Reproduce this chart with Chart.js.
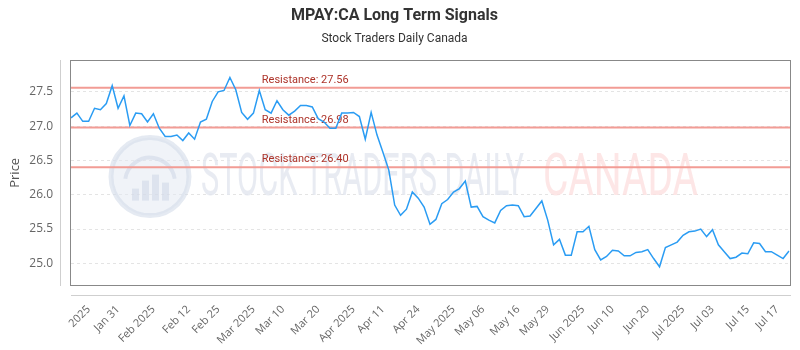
<!DOCTYPE html>
<html>
<head>
<meta charset="utf-8">
<script src="https://cdn.jsdelivr.net/npm/chart.js@4/dist/chart.umd.min.js"></script>
<style>
html,body{margin:0;padding:0;background:#fff;}
#wrap{width:800px;height:350px;}
</style>
</head>
<body>
<div id="wrap"><canvas id="c" width="800" height="350"></canvas></div>
<script>
// ---- data ----
const prices = [
  27.12, 27.19, 27.07, 27.07, 27.26, 27.24, 27.33, 27.59, 27.26, 27.44,
  27.01, 27.19, 27.18, 27.06, 27.18, 26.97, 26.85, 26.85, 26.87, 26.79,
  26.90, 26.81, 27.06, 27.10, 27.36, 27.50, 27.52, 27.71, 27.53, 27.20,
  27.10, 27.19, 27.52, 27.24, 27.19, 27.37, 27.24, 27.16, 27.22, 27.30,
  27.30, 27.28, 27.11, 27.06, 26.97, 26.97, 27.19, 27.19, 27.20, 27.14,
  26.81, 27.20, 26.87, 26.62, 26.36, 25.85, 25.70, 25.79, 26.04, 25.95,
  25.82, 25.57, 25.64, 25.87, 25.93, 26.04, 26.09, 26.20, 25.82, 25.83,
  25.68, 25.63, 25.59, 25.77, 25.84, 25.85, 25.84, 25.68, 25.69, 25.80,
  25.91, 25.63, 25.27, 25.35, 25.12, 25.12, 25.46, 25.46, 25.54, 25.20,
  25.05, 25.10, 25.19, 25.18, 25.11, 25.11, 25.16, 25.17, 25.20, 25.07,
  24.95, 25.23, 25.27, 25.31, 25.41, 25.46, 25.47, 25.50, 25.39, 25.49,
  25.27, 25.17, 25.07, 25.09, 25.15, 25.14, 25.30, 25.29, 25.17, 25.17,
  25.12, 25.07, 25.18
];
const tickIndex  = [3, 8, 14, 20, 25, 31, 36, 42, 48, 53, 59, 65, 70, 76, 81, 87, 92, 98, 104, 109, 115, 120];
const tickLabels = ["2025", "Jan 31", "Feb 2025", "Feb 12", "Feb 25", "Mar 2025", "Mar 10", "Mar 20",
                    "Apr 2025", "Apr 11", "Apr 24", "May 2025", "May 06", "May 16", "May 29", "Jun 2025",
                    "Jun 10", "Jun 20", "Jul 2025", "Jul 03", "Jul 15", "Jul 17"];
const yTicks = [25.0, 25.5, 26.0, 26.5, 27.0, 27.5];
const yMin = 24.67, yMax = 27.97;
const resistanceLevels = [27.56, 26.98, 26.40];
const resistanceLabels = ["Resistance: 27.56", "Resistance: 26.98", "Resistance: 26.40"];
const titleText = "MPAY:CA Long Term Signals";
const subtitleText = "Stock Traders Daily Canada";

// ---- plugins ----
const watermark = {
  id: 'watermark',
  beforeDatasetsDraw(chart) {
    const ctx = chart.ctx;
    const a = chart.chartArea;
    ctx.save();
    ctx.beginPath(); ctx.rect(a.left, a.top, a.right - a.left, a.bottom - a.top); ctx.clip();
    const cx = a.left + 79, cy = a.top + 117, r = 39;
    ctx.beginPath(); ctx.arc(cx, cy, r, 0, Math.PI * 2);
    ctx.fillStyle = 'rgba(228,233,242,0.55)'; ctx.fill();
    ctx.lineWidth = 5; ctx.strokeStyle = 'rgba(212,220,234,0.6)'; ctx.stroke();
    ctx.beginPath(); ctx.arc(cx, cy + 6, r - 14, Math.PI * 1.05, Math.PI * 1.95);
    ctx.lineWidth = 4; ctx.strokeStyle = 'rgba(205,214,230,0.55)'; ctx.stroke();
    ctx.fillStyle = 'rgba(205,214,230,0.55)';
    [[-18, 12], [-8, 20], [2, 26], [12, 18]].forEach(([dx, h]) => ctx.fillRect(cx + dx, cy + 28 - h - 4, 7, h));
    ctx.textBaseline = 'alphabetic';
    ctx.font = '400 60px Roboto';
    const t1 = 'STOCK TRADERS DAILY';
    const w1 = ctx.measureText(t1).width;
    ctx.save(); ctx.translate(a.left + 130, a.top + 135); ctx.scale(323 / w1, 1);
    ctx.fillStyle = 'rgba(226,230,239,0.8)'; ctx.fillText(t1, 0, 0); ctx.restore();
    const t2 = 'CANADA';
    const w2 = ctx.measureText(t2).width;
    ctx.save(); ctx.translate(a.left + 472, a.top + 135); ctx.scale(155 / w2, 1);
    ctx.fillStyle = 'rgba(252,224,224,0.8)'; ctx.fillText(t2, 0, 0); ctx.restore();
    ctx.restore();
  }
};

const resistance = {
  id: 'resistance',
  beforeDatasetsDraw(chart) {
    const ctx = chart.ctx, a = chart.chartArea, y = chart.scales.y;
    ctx.save();
    resistanceLevels.forEach((lv, i) => {
      const py = y.getPixelForValue(lv);
      ctx.beginPath(); ctx.moveTo(a.left, py); ctx.lineTo(a.right + 1, py);
      ctx.lineWidth = 2; ctx.strokeStyle = '#f29c95'; ctx.stroke();
      ctx.font = '11px Roboto'; ctx.fillStyle = '#ad3329';
      ctx.textAlign = 'left'; ctx.textBaseline = 'alphabetic';
      ctx.fillText(resistanceLabels[i], a.left + (a.right - a.left) * 0.2657, py - 5);
    });
    ctx.restore();
  }
};

const frame = {
  id: 'frame',
  afterDraw(chart) {
    const ctx = chart.ctx, a = chart.chartArea;
    ctx.save();
    ctx.lineWidth = 1;
    ctx.strokeStyle = '#888';
    ctx.strokeRect(Math.round(a.left) - 0.5, Math.round(a.top) + 0.5, Math.round(a.right - a.left) + 2, Math.round(a.bottom - a.top) - 1);
    ctx.strokeStyle = '#cfcfcf';
    ctx.beginPath();
    ctx.moveTo(Math.round(a.left) - 10.5, Math.round(a.top));
    ctx.lineTo(Math.round(a.left) - 10.5, Math.round(a.bottom));
    ctx.moveTo(Math.round(a.left), Math.round(a.bottom) + 9.5);
    ctx.lineTo(Math.round(a.right) + 2, Math.round(a.bottom) + 9.5);
    ctx.stroke();
    ctx.restore();
  }
};

new Chart(document.getElementById('c'), {
  type: 'line',
  data: {
    labels: prices.map((_, i) => i),
    datasets: [{
      data: prices,
      borderColor: '#2a9cf3',
      borderWidth: 1.5,
      pointRadius: 0,
      tension: 0,
      fill: false
    }]
  },
  options: {
    responsive: false,
    animation: false,
    devicePixelRatio: 1,
    layout: { padding: { left: 0, right: 11, top: 0, bottom: 0 } },
    plugins: {
      legend: { display: false },
      tooltip: { enabled: false },
      title: {
        display: true, text: titleText, color: '#333',
        font: { family: 'Roboto', size: 16, weight: 'bold' },
        padding: { top: 6, bottom: 0 }
      },
      subtitle: {
        display: true, text: subtitleText, color: '#333',
        font: { family: 'Roboto', size: 12 },
        padding: { top: 7, bottom: 13 }
      }
    },
    scales: {
      x: {
        type: 'category',
        offset: false,
        grid: { display: false },
        border: { display: false },
        afterBuildTicks(s) { s.ticks = tickIndex.map(v => ({ value: v })); },
        afterFit(s) { s.height = 64; },
        ticks: {
          autoSkip: false, maxRotation: 45, minRotation: 45,
          padding: 9, color: '#666',
          font: { family: 'Open Sans', size: 11 },
          callback: (v, i) => tickLabels[i]
        }
      },
      y: {
        min: yMin, max: yMax,
        afterBuildTicks(s) { s.ticks = yTicks.map(v => ({ value: v })); },
        afterFit(s) { s.width = 71; },
        grid: { color: '#e4e4e4', drawTicks: false },
        border: { display: false, dash: [3, 3] },
        ticks: {
          padding: 18, color: '#666',
          font: { family: 'Open Sans', size: 12 },
          callback: v => Number(v).toFixed(1)
        },
        title: {
          display: true, text: 'Price', color: '#555',
          font: { family: 'Open Sans', size: 13 },
          padding: { top: 7, bottom: 0 }
        }
      }
    }
  },
  plugins: [watermark, resistance, frame]
});
</script>
</body>
</html>
